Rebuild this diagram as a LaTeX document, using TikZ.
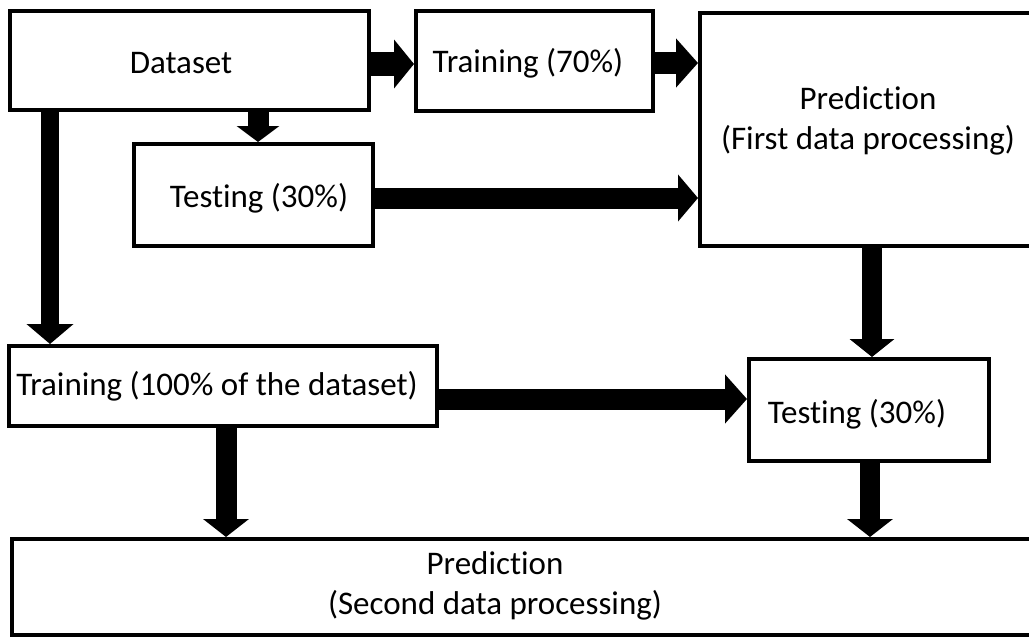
\documentclass[tikz,border=0pt]{standalone}
\usepackage{fontspec}
\setmainfont{Carlito}[Ligatures={NoCommon,NoContextual,NoRare,NoRequired}, RawFeature={-liga;-clig;-dlig}]
\usetikzlibrary{arrows.meta}
\tikzset{
  box/.style={draw=black, line width=4pt, fill=white, inner sep=0pt,
    font=\fontsize{33}{40}\selectfont, align=center},
  blk/.style={line width=21pt, draw=black, -{Triangle[width=46pt,length=20pt]}},
  lbl/.style={font=\fontsize{33}{40}\selectfont, align=center}
}
\begin{document}
\begin{tikzpicture}[x=1pt,y=-1pt]
\clip (0,0) rectangle (1029,637);
\fill[white] (0,0) rectangle (1029,637);

\node[box, minimum width=359, minimum height=99] (dataset) at (189.5,60.5) {};
\node[lbl] (datasettxt) at (181,63) {Dataset};
\node[box, minimum width=237, minimum height=100] (t70) at (534.5,61) {};
\node[lbl] (t70txt) at (528,63) {Training (70\%)};
\node[box, minimum width=340, minimum height=233] (p1) at (870,129.5) {};
\node[lbl] (p1txt) at (868,121) {Prediction\\(First data processing)};
\node[box, minimum width=239, minimum height=102] (t30) at (253.5,195) {};
\node[lbl] (t30txt) at (259,198) {Testing (30\%)};
\node[box, minimum width=428, minimum height=80] (t100) at (223,386) {};
\node[lbl] (t100txt) at (217,386) {Training (100\% of the dataset)};
\node[box, minimum width=240, minimum height=102] (tb) at (869,410) {};
\node[lbl] (tbtxt) at (857,414) {Testing (30\%)};
\node[box, minimum width=1030, minimum height=96] (p2) at (527,587) {};
\node[lbl] (p2txt) at (495,586) {Prediction\\(Second data processing)};

\draw[blk, line width=24pt, -{Triangle[width=48pt,length=20pt]}] (dataset.east |- 0,64) -- (t70.west |- 0,64);
\draw[blk, line width=22pt, -{Triangle[width=48pt,length=22pt]}] (t70.east |- 0,63) -- (p1.west |- 0,63);
\draw[blk, -{Triangle[width=42pt,length=16pt]}] (dataset.south -| 258,0) -- (t30.north -| 258,0);
\draw[blk] (t30.east |- 0,198) -- (p1.west |- 0,198);
\draw[blk, line width=18pt] (dataset.south -| 50,0) -- (t100.north -| 50,0);
\draw[blk, -{Triangle[width=48pt,length=22pt]}] (t100.east |- 0,399) -- (tb.west |- 0,399);
\draw[blk, line width=20pt, -{Triangle[width=44pt,length=18pt]}] (p1.south -| 872,0) -- (tb.north -| 872,0);
\draw[blk, -{Triangle[width=45pt,length=18pt]}] (t100.south -| 226,0) -- (p2.north -| 226,0);
\draw[blk, line width=20pt, -{Triangle[width=45pt,length=18pt]}] (tb.south -| 870,0) -- (p2.north -| 870,0);
\end{tikzpicture}
\end{document}
